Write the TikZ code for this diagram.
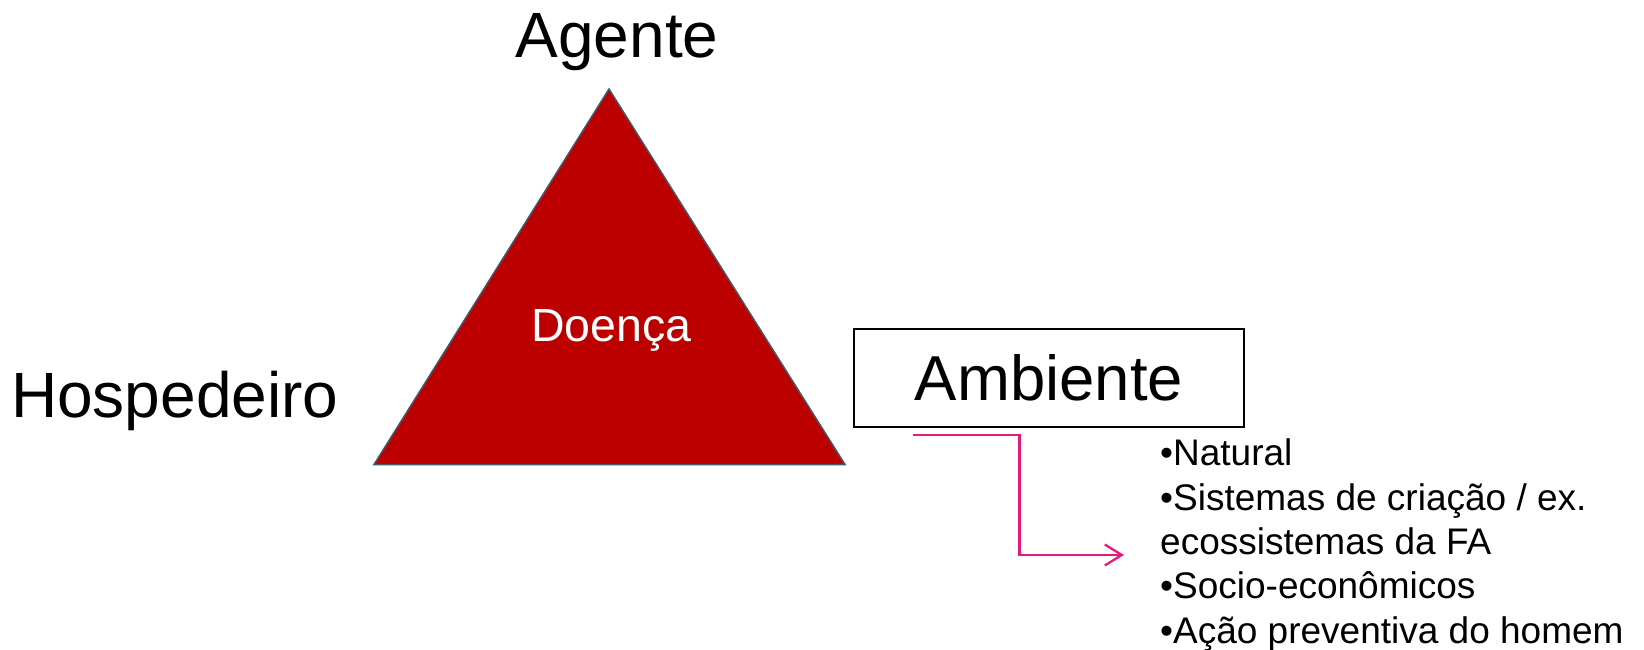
\documentclass[tikz,border=0pt]{standalone}
\usepackage{fontspec}
\setmainfont{Liberation Sans}
\usetikzlibrary{arrows.meta}
\definecolor{trired}{HTML}{BC0000}
\definecolor{triedge}{HTML}{44586C}
\definecolor{arrowpink}{HTML}{E8197C}
\tikzset{
  bigtxt/.style={inner sep=0pt, font=\fontsize{64}{76}\selectfont, text=black},
  listtxt/.style={inner sep=0pt, anchor=base west, font=\fontsize{37}{44.4}\selectfont, text=black},
  ambbox/.style={draw=black, line width=2pt, minimum width=390pt, minimum height=98pt, inner sep=0pt,
    text height=45pt, text depth=0pt, font=\fontsize{63.5}{76}\selectfont},
  pinkarrow/.style={draw=arrowpink, line width=2.3pt, -{Straight Barb[length=17pt,width=21pt,line width=2.3pt]}},
}
\begin{document}
\begin{tikzpicture}[x=1pt,y=-1pt]
\useasboundingbox (0,0) rectangle (1644,650);
% triangle
\coordinate (apex) at (609,89);
\coordinate (bl) at (374,464.5);
\coordinate (br) at (845,464.5);
\filldraw[fill=trired, draw=triedge, line width=1.5pt, line join=miter] (apex) -- (bl) -- (br) -- cycle;
\node[inner sep=0pt, anchor=base, text=white, font=\fontsize{46.5}{56}\selectfont] (doenca) at (611.5,341.7) {Doença};
% labels
\node[bigtxt, anchor=base west] (agente) at (515.5,57.3) {Agente};
\node[bigtxt, anchor=base west] (hosp) at (11,417.3) {Hospedeiro};
\node[ambbox] (amb) at (1049,378.3) {Ambiente};
% list
\node[listtxt] (l1) at (1160,465.7) {•Natural};
\node[listtxt] (l2) at (1160,510.1) {•Sistemas de criação / ex.};
\node[listtxt] (l3) at (1160,554.5) {ecossistemas da FA};
\node[listtxt] (l4) at (1160,598.9) {•Socio-econômicos};
\node[listtxt] (l5) at (1160,643.3) {•Ação preventiva do homem};
% arrow
\coordinate (astart) at (913.3,435);
\coordinate (aend) at (1124,555);
\draw[pinkarrow] (astart) -- (1019.6,435) |- (aend);
\end{tikzpicture}
\end{document}
